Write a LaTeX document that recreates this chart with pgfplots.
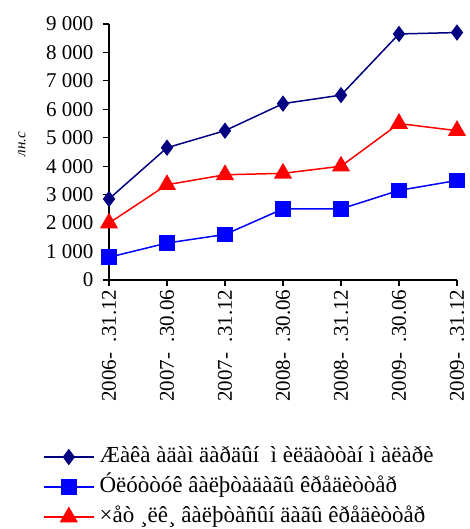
\documentclass[border=0pt]{standalone}
\usepackage{fontspec}
\setmainfont{Liberation Serif}
\usepackage{pgfplots}
\pgfplotsset{compat=1.18}

\definecolor{navyline}{RGB}{0,0,128}
\definecolor{blueline}{RGB}{0,0,255}
\definecolor{redline}{RGB}{255,0,0}

\newcommand{\tickfont}{\fontsize{21bp}{25bp}\selectfont}
\newcommand{\legfont}{\fontsize{23bp}{27bp}\selectfont}

\begin{document}
\begin{tikzpicture}
\begin{axis}[
  scale only axis,
  width=348bp, height=256bp,
  xmin=0, xmax=6,
  ymin=0, ymax=9000,
  clip=false,
  axis x line*=bottom, axis y line*=left,
  axis line style={line width=1.5bp, black},
  xtick={0,...,6},
  xticklabels={2006-\ \ .31.12, 2007-\ \ .30.06, 2007-\ \ .31.12, 2008-\ \ .30.06, 2008-\ \ .31.12, 2009-\ \ .30.06, 2009-\ \ .31.12},
  ytick={0,1000,...,9000},
  tick align=outside,
  major tick length=6bp,
  tick style={line width=1.2bp, black},
  xticklabel style={rotate=90, anchor=east, font=\tickfont},
  yticklabel style={font=\tickfont, xshift=-6bp},
  /pgf/number format/assume math mode=true,
  /pgf/number format/1000 sep={\ },
  scaled y ticks=false,
  ylabel={\itshape лн.с},
  ylabel style={at={(axis description cs:-0.25,0.53)}, anchor=center, rotate=0, font=\fontsize{15bp}{18bp}\selectfont},
  legend style={at={(axis description cs:-0.19,-0.64)}, anchor=north west, draw=none, fill=none, font=\legfont, row sep=4bp, column sep=3bp, inner sep=0pt,
    nodes={text height=16bp, text depth=6bp}},
  legend cell align=left,
  legend image code/.code={\draw[mark repeat=2, mark phase=2] plot coordinates {(0bp,0bp) (25bp,0bp) (50bp,0bp)};},
]
\addplot[navyline, line width=1.5bp, mark=diamond*, mark size=7bp, mark options={solid}] coordinates {
  (0,2850) (1,4650) (2,5250) (3,6200) (4,6500) (5,8650) (6,8700)
};
\addlegendentry{Æàêà àäàì äàðäûí\ \ ì èëäàòòàí ì àëàðè}
\addplot[blueline, line width=1.5bp, mark=square*, mark size=7bp, mark options={solid}] coordinates {
  (0,800) (1,1300) (2,1600) (3,2500) (4,2500) (5,3150) (6,3500)
};
\addlegendentry{Óëóòòóê âàëþòàäàãû êðåäèòòåð}
\addplot[redline, line width=1.5bp, mark=triangle*, mark size=9bp, mark options={solid}] coordinates {
  (0,2000) (1,3350) (2,3700) (3,3750) (4,4000) (5,5500) (6,5250)
};
\addlegendentry{×åò ¸ëê¸ âàëþòàñûí äàãû êðåäèòòåð}
\end{axis}
\pgfresetboundingbox
\path (-109bp,-249bp) rectangle (361bp,280bp);
\end{tikzpicture}
\end{document}
